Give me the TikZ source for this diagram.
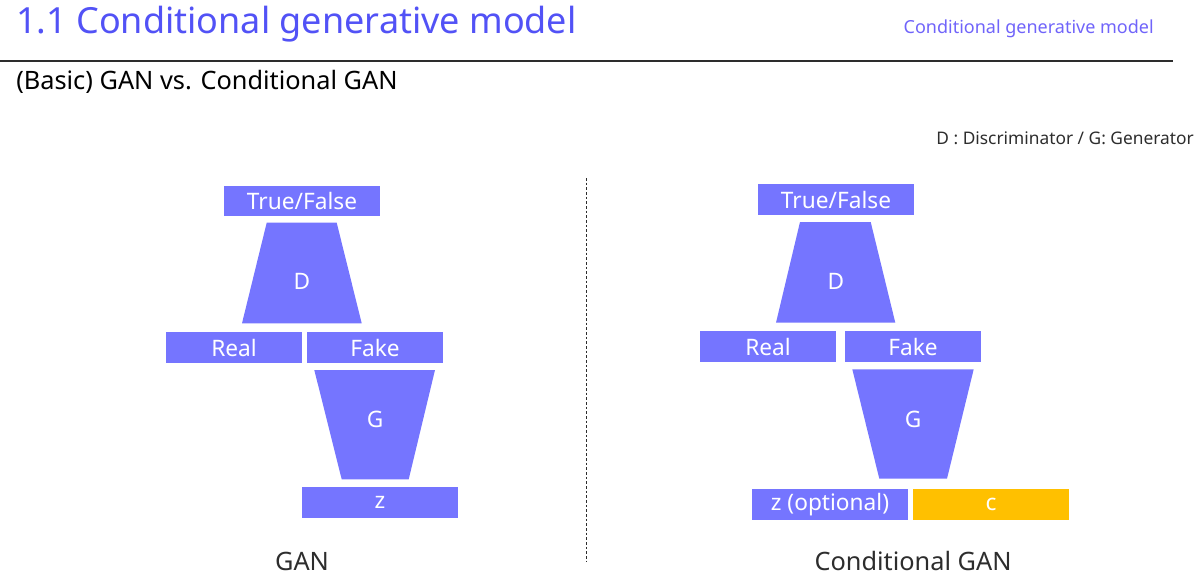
\documentclass[tikz,border=0pt]{standalone}
\usepackage{fontspec}
\setmainfont{Noto Sans}
\usetikzlibrary{positioning}
\definecolor{ttlblue}{RGB}{82,82,246}
\definecolor{tagblue}{RGB}{112,100,250}
\definecolor{blkfill}{RGB}{117,117,255}
\definecolor{condgold}{RGB}{255,192,0}
\definecolor{txtgray}{RGB}{45,45,45}

\begin{document}
\begin{tikzpicture}[x=0.75pt,y=-0.75pt,
 blk/.style={fill=blkfill,text=white,inner sep=0pt,minimum width=117pt,minimum height=23pt,font=\fontsize{17}{19}\selectfont},
 half/.style={blk,minimum width=102pt},
 trap/.style={fill=blkfill},
 lbl/.style={text=white,font=\fontsize{17}{19}\selectfont},
 modelcap/.style={text=txtgray,font=\fontsize{19}{22}\selectfont}]
\useasboundingbox (0,0) rectangle (1199,582);
% header
\node[anchor=base west,text=ttlblue,font=\fontsize{27}{31}\selectfont,inner sep=0pt] (title) at (16,33) {1.1 Conditional generative model};
\node[anchor=base east,text=tagblue,font=\fontsize{13.5}{16}\selectfont,inner sep=0pt] (tag) at (1154,33) {Conditional generative model};
\draw[txtgray,line width=0.8pt] (0,61) -- (1173,61);
\node[anchor=base west,text=black,font=\fontsize{19}{22}\selectfont,inner sep=0pt] (sub) at (16,89) {(Basic) GAN vs. Conditional GAN};
\node[anchor=base east,text=txtgray,font=\fontsize{13}{16}\selectfont,inner sep=0pt] (legend) at (1194,144) {D : Discriminator / G: Generator};
% GAN
\node[blk] (tf1) at (302,201) {True/False};
\fill[trap] (266.7,222.7) -- (336.7,222.7) -- (361.7,323.3) -- (242,323.3) -- cycle;
\node[lbl] (d1) at (302,281) {D};
\node[half] (real1) at (234,347.5) {Real};
\node[half] (fake1) at (375,347.5) {Fake};
\fill[trap] (314.3,370) -- (435,370) -- (408.7,479.3) -- (341.7,479.3) -- cycle;
\node[lbl] (g1) at (375,419) {G};
\node[blk] (z1) at (380,502.5) {z};
\node[modelcap] (gan) at (302,561) {GAN};
% divider
\draw[txtgray,line width=0.6pt,dash pattern=on 2pt off 1.5pt] (586,178) -- (586,562);
% conditional GAN
\node[blk] (tf2) at (836,199.5) {True/False};
\fill[trap] (800,222) -- (870.7,222) -- (895.3,322.7) -- (776,322.7) -- cycle;
\node[lbl] (d2) at (836,281) {D};
\node[half] (real2) at (768,346.5) {Real};
\node[half] (fake2) at (913,346.5) {Fake};
\fill[trap] (852.3,369.3) -- (973.7,369.3) -- (947,478.7) -- (879.3,478.7) -- cycle;
\node[lbl] (g2) at (913,419) {G};
\node[blk] (z2) at (830,504.5) {z (optional)};
\node[blk,fill=condgold] (c2) at (991,504.5) {c};
\node[modelcap] (cgan) at (913,561) {Conditional GAN};
\end{tikzpicture}
\end{document}
